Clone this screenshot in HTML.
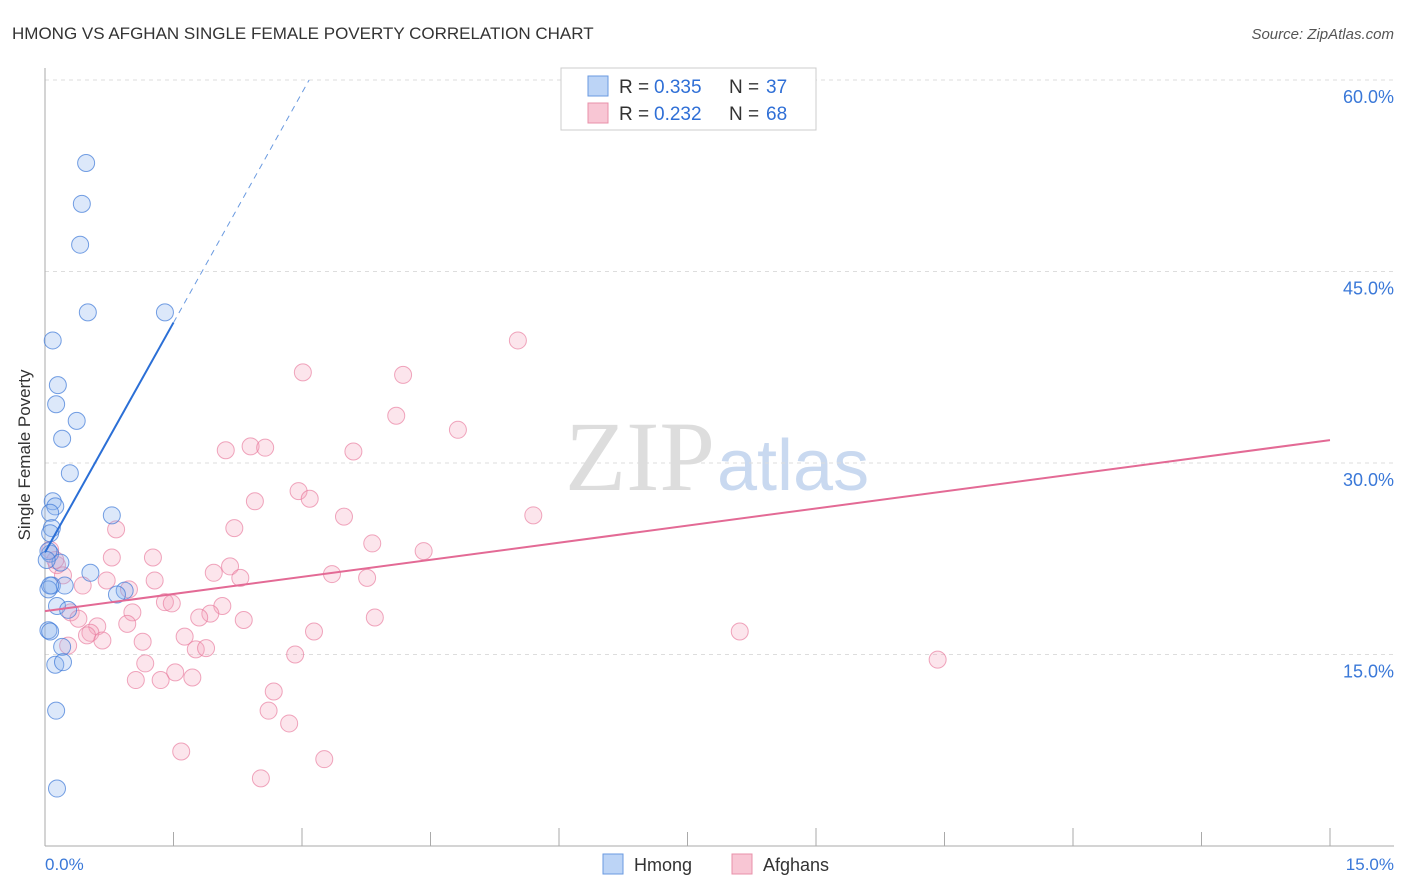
<!DOCTYPE html>
<html><head><meta charset="utf-8"><style>
body{margin:0;background:#fff;font-family:"Liberation Sans",sans-serif;}
svg{display:block}
</style></head><body>
<svg id="chart" width="1406" height="892">
<text x="12" y="39" font-size="17" fill="#333">HMONG VS AFGHAN SINGLE FEMALE POVERTY CORRELATION CHART</text>
<text x="1394" y="39" font-size="15" fill="#555" font-style="italic" text-anchor="end">Source: ZipAtlas.com</text>
<text x="715" y="490" font-size="100" font-family="Liberation Serif,serif" fill="#ddd" text-anchor="end">ZIP</text>
<text x="717" y="490" font-size="72" fill="#c9d9f0">atlas</text>
<g id="grid"></g>
<line x1="45" y1="68" x2="45" y2="846" stroke="#aaa"/>
<line x1="45" y1="846" x2="1394" y2="846" stroke="#aaa"/>
<g id="xticks"></g>
<text x="30" y="455" font-size="17" fill="#333" text-anchor="middle" transform="rotate(-90 30 455)">Single Female Poverty</text>
<text x="45" y="870" font-size="17" fill="#3a78d8">0.0%</text>
<text x="1394" y="870" font-size="17" fill="#3a78d8" text-anchor="end">15.0%</text>
<g id="points"></g>
<g id="lines"></g>
<g>
<rect x="561" y="68" width="255" height="62" fill="#fff" stroke="#ccc"/>
<rect x="588" y="76" width="20" height="20" fill="#bcd4f6" stroke="#6a9ae0"/>
<text x="619" y="93" font-size="19" fill="#333">R =</text>
<text x="654" y="93" font-size="19" fill="#2f6fd6">0.335</text>
<text x="729" y="93" font-size="19" fill="#333">N =</text>
<text x="766" y="93" font-size="19" fill="#2f6fd6">37</text>
<rect x="588" y="103" width="20" height="20" fill="#f8c6d4" stroke="#e890aa"/>
<text x="619" y="120" font-size="19" fill="#333">R =</text>
<text x="654" y="120" font-size="19" fill="#2f6fd6">0.232</text>
<text x="729" y="120" font-size="19" fill="#333">N =</text>
<text x="766" y="120" font-size="19" fill="#2f6fd6">68</text>
</g>
<g>
<rect x="603" y="854" width="20" height="20" fill="#bcd4f6" stroke="#6a9ae0"/>
<text x="634" y="871" font-size="18" fill="#333">Hmong</text>
<rect x="732" y="854" width="20" height="20" fill="#f8c6d4" stroke="#e890aa"/>
<text x="763" y="871" font-size="18" fill="#333">Afghans</text>
</g>
</svg>
<script>
const yTicks=[15,30,45,60];
const yTickLabels=["15.0%","30.0%","45.0%","60.0%"];
const hmongX=[0.48,0.43,0.41,0.50,1.40,0.09,0.15,0.13,0.37,0.20,0.29,0.09,0.12,0.78,0.06,0.08,0.06,0.06,0.18,0.53,0.08,0.23,0.04,0.93,0.84,0.14,0.27,0.04,0.06,0.20,0.12,0.21,0.13,0.14,0.04,0.06,0.02];
const hmongY=[53.5,50.3,47.1,41.8,41.8,39.6,36.1,34.6,33.3,31.9,29.2,27.0,26.6,25.9,26.1,24.9,24.5,22.9,22.2,21.4,20.4,20.4,20.1,20.0,19.7,18.8,18.5,16.9,16.8,15.6,14.2,14.4,10.6,4.5,23.1,20.4,22.4];
const afghanX=[5.52,3.01,4.18,4.10,4.82,2.11,2.40,2.57,3.60,2.96,3.09,2.45,5.70,3.49,0.83,2.21,3.82,4.42,0.78,1.26,2.16,1.97,3.35,3.76,2.28,0.14,0.21,1.28,0.72,0.44,0.98,1.40,1.48,2.07,0.30,1.02,1.93,1.80,2.32,3.85,0.39,0.61,0.96,0.53,1.63,3.14,0.49,0.67,1.14,1.76,1.88,0.27,2.92,8.11,10.42,1.17,1.52,1.06,1.35,1.72,2.67,2.61,2.85,1.59,3.26,2.52,0.06,0.12];
const afghanY=[39.6,37.1,36.9,33.7,32.6,31.0,31.3,31.2,30.9,27.8,27.2,27.0,25.9,25.8,24.8,24.9,23.7,23.1,22.6,22.6,21.9,21.4,21.3,21.0,21.0,22.0,21.2,20.8,20.8,20.4,20.1,19.1,19.0,18.8,18.3,18.3,18.2,17.9,17.7,17.9,17.8,17.2,17.4,16.7,16.4,16.8,16.5,16.1,16.0,15.4,15.5,15.7,15.0,16.8,14.6,14.3,13.6,13.0,13.0,13.2,12.1,10.6,9.6,7.4,6.8,5.3,23.2,22.4];
const hmongFit=[23.0,12.0]; // intercept, slope
const afghanFit=[18.4,0.893];
const X=v=>45+v*(1285/15);
const Y=v=>846-v*(766/60);
const NS="http://www.w3.org/2000/svg";
function mk(tag,attrs,parent){const e=document.createElementNS(NS,tag);for(const k in attrs)e.setAttribute(k,attrs[k]);document.getElementById(parent).appendChild(e);return e;}
yTicks.forEach((t,i)=>{
  const l=mk('line',{x1:45,x2:1394,y1:Y(t),y2:Y(t),stroke:'#ddd','stroke-dasharray':'4,4'},'grid');
  
  
  const tx=mk('text',{x:1394,y:Y(t)+23,'font-size':18,fill:'#3a78d8','text-anchor':'end'},'grid');
  tx.textContent=yTickLabels[i];
  
  
});
for(let i=0;i<=10;i++){
  const l=mk('line',{x1:X(i*1.5),x2:X(i*1.5),y1:846,y2:(i%2?832:828),stroke:'#aaa'},'xticks');
  
  
}
afghanX.forEach((x,i)=>{
  const c=mk('circle',{cx:X(x),cy:Y(afghanY[i]),r:8.5,fill:'rgba(244,160,186,0.28)',stroke:'rgba(232,120,155,0.65)','stroke-width':1},'points');
  
  
});
hmongX.forEach((x,i)=>{
  const c=mk('circle',{cx:X(x),cy:Y(hmongY[i]),r:8.5,fill:'rgba(140,180,240,0.3)',stroke:'rgba(60,120,215,0.7)','stroke-width':1},'points');
  
  
});
const hx1=1.5, hx2=(60-hmongFit[0])/hmongFit[1];
let l1=mk('line',{x1:X(0),y1:Y(hmongFit[0]),x2:X(hx1),y2:Y(hmongFit[0]+hmongFit[1]*hx1),stroke:'#2b6fd6','stroke-width':2},'lines');


let l2=mk('line',{x1:X(hx1),y1:Y(hmongFit[0]+hmongFit[1]*hx1),x2:X(hx2),y2:Y(60),stroke:'#6a9ae0','stroke-width':1,'stroke-dasharray':'6,5'},'lines');


let l3=mk('line',{x1:X(0),y1:Y(afghanFit[0]),x2:X(15),y2:Y(afghanFit[0]+afghanFit[1]*15),stroke:'#e36a95','stroke-width':2},'lines');


</script>
</body></html>
